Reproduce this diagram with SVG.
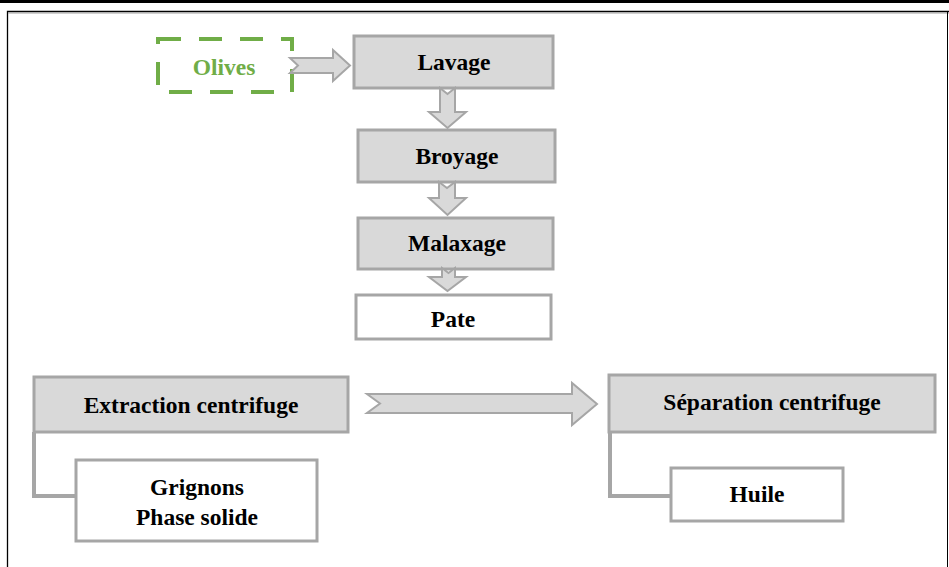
<svg xmlns="http://www.w3.org/2000/svg" width="949" height="567" viewBox="0 0 949 567">
<style>
.box{fill:#d9d9d9;stroke:#a6a6a6;stroke-width:3}
.wbox{fill:#ffffff;stroke:#a6a6a6;stroke-width:3}
.arr{fill:#d9d9d9;stroke:#a6a6a6;stroke-width:2;stroke-linejoin:miter}
.conn{fill:none;stroke:#a6a6a6;stroke-width:4}
text{font-family:"Liberation Serif","Times New Roman",serif;font-weight:bold;font-size:23.5px;text-anchor:middle;fill:#000}
</style>
<rect x="0" y="0" width="949" height="567" fill="#ffffff"/>
<g id="frame">
<rect x="0" y="0" width="949" height="3" fill="#000"/>
<path d="M7.5,567 V11.5 H949" fill="none" stroke="#000" stroke-width="1.3"/>
<path d="M8,13 H949" fill="none" stroke="#a0a0a0" stroke-width="1"/>
<path d="M947.5,11.5 V567" fill="none" stroke="#000" stroke-width="1"/>
</g>
<g id="olives">
<rect x="158" y="39" width="134" height="53" fill="none" stroke="#70ad47" stroke-width="4" stroke-dasharray="23,18"/>
<text x="224" y="75" style="fill:#70ad47">Olives</text>
</g>
<g id="lavage">
<rect class="box" x="354" y="36" width="199" height="52"/>
<text x="454" y="70">Lavage</text>
</g>
<g id="broyage">
<rect class="box" x="358" y="130" width="197" height="52"/>
<text x="457" y="164">Broyage</text>
</g>
<g id="malaxage">
<rect class="box" x="358" y="218" width="195" height="51"/>
<text x="457" y="251">Malaxage</text>
</g>
<g id="pate">
<rect class="wbox" x="356" y="295" width="195" height="44"/>
<text x="453" y="327">Pate</text>
</g>
<g id="extraction">
<rect class="box" x="34" y="377" width="314" height="55"/>
<text x="191" y="413">Extraction centrifuge</text>
</g>
<g id="grignons">
<rect class="wbox" x="76" y="460" width="241" height="81"/>
<text x="197" y="495">Grignons</text>
<text x="197" y="525">Phase solide</text>
</g>
<g id="separation">
<rect class="box" x="609" y="375" width="326" height="57"/>
<text x="772" y="410">Séparation centrifuge</text>
</g>
<g id="huile">
<rect class="wbox" x="671" y="468" width="172" height="53"/>
<text x="757" y="502">Huile</text>
</g>
<g id="connectors">
<path class="arr" d="M290,58 L333,58 L333,50 L350,65.5 L333,81 L333,73 L290,73 L298,65.5 Z"/>
<path class="arr" d="M440,88 L447.5,94 L455,88 L455,112 L466,112 L447.5,128 L429,112 L440,112 Z"/>
<path class="arr" d="M439,182 L447,188 L455,182 L455,198 L466,198 L447.5,215 L429,198 L439,198 Z"/>
<path class="arr" d="M442,268 L448.5,273 L455,268 L455,277 L466,277 L447.5,291 L429,277 L442,277 Z"/>
<path class="arr" d="M367,394 L572,394 L572,383 L597,404 L572,425 L572,413 L367,413 L380,403.5 Z"/>
<path class="conn" d="M34,432 V496 H76"/>
<path class="conn" d="M610,432 V496 H671"/>
</g>
</svg>
